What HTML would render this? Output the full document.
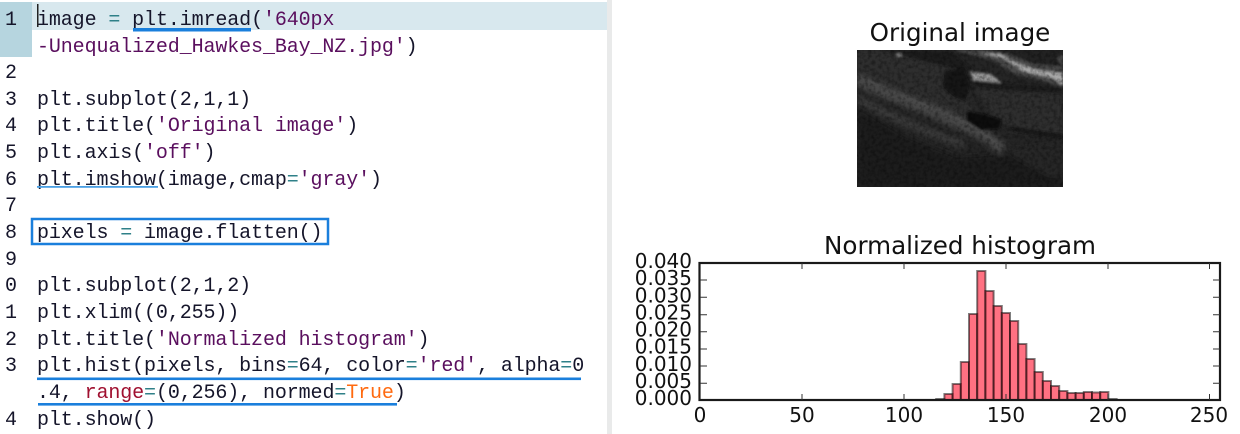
<!DOCTYPE html>
<html><head><meta charset="utf-8"><style>
html,body{margin:0;padding:0;background:#fff}
svg{display:block}
.c text{font-family:"Liberation Mono",monospace;font-size:20px;fill:#15152a;white-space:pre;letter-spacing:-.11px}
.e{fill:#2f8088}.s{fill:#5a0f5e}.r{fill:#a01030}.t{fill:#ff6a10}
.a text{font-family:"DejaVu Sans",sans-serif;font-size:20px;fill:#111}
</style></head><body>
<svg width="1240" height="434" viewBox="0 0 1240 434" xmlns="http://www.w3.org/2000/svg">
<defs>
<filter id="b1" x="-20%" y="-20%" width="140%" height="140%"><feGaussianBlur stdDeviation="8"/></filter>
<filter id="b2" x="-20%" y="-20%" width="140%" height="140%"><feGaussianBlur stdDeviation="4"/></filter>
<filter id="n" x="0" y="0" width="100%" height="100%"><feTurbulence type="fractalNoise" baseFrequency="0.09" numOctaves="2" seed="4"/><feColorMatrix values="0 0 0 0 0 0 0 0 0 0 0 0 0 0 0 2 0 0 0 -0.8"/></filter>
</defs>
<rect width="1240" height="434" fill="#fff"/>
<rect x="32" y="2" width="575" height="28" fill="#d8e8ee"/>
<rect x="0" y="2" width="32" height="55" fill="#b6d5df"/>
<rect x="607" y="0" width="5" height="434" fill="#e9eaea"/>
<g class="c">
<text x="5" y="25">1</text><text x="37" y="25">image <tspan class="e">=</tspan> plt.imread(<tspan class="s">'640px</tspan></text>
<text x="37" y="52"><tspan class="s">-Unequalized_Hawkes_Bay_NZ.jpg'</tspan>)</text>
<text x="5" y="78">2</text>
<text x="5" y="105">3</text><text x="37" y="105">plt.subplot(2,1,1)</text>
<text x="5" y="131">4</text><text x="37" y="131">plt.title(<tspan class="s">'Original image'</tspan>)</text>
<text x="5" y="158">5</text><text x="37" y="158">plt.axis(<tspan class="s">'off'</tspan>)</text>
<text x="5" y="185">6</text><text x="37" y="185">plt.imshow(image,cmap<tspan class="e">=</tspan><tspan class="s">'gray'</tspan>)</text>
<text x="5" y="211">7</text>
<text x="5" y="238">8</text><text x="37" y="238">pixels <tspan class="e">=</tspan> image.flatten()</text>
<text x="5" y="265">9</text>
<text x="5" y="291">0</text><text x="37" y="291">plt.subplot(2,1,2)</text>
<text x="5" y="318">1</text><text x="37" y="318">plt.xlim((0,255))</text>
<text x="5" y="345">2</text><text x="37" y="345">plt.title(<tspan class="s">'Normalized histogram'</tspan>)</text>
<text x="5" y="371">3</text><text x="37" y="371">plt.hist(pixels, bins<tspan class="e">=</tspan>64, color<tspan class="e">=</tspan><tspan class="s">'red'</tspan>, alpha<tspan class="e">=</tspan>0</text>
<text x="37" y="398">.4, <tspan class="r">range</tspan><tspan class="e">=</tspan>(0,256), normed<tspan class="e">=</tspan><tspan class="t">True</tspan>)</text>
<text x="5" y="425">4</text><text x="37" y="425">plt.show()</text>
</g>
<rect x="37" y="4" width="1.5" height="23" fill="#222"/>
<rect x="133" y="28" width="118" height="3.5" fill="#1a7fdc"/>
<rect x="37" y="186" width="121" height="1.8" fill="#4aa0e4"/>
<rect x="32" y="219" width="296" height="25" fill="none" stroke="#1a7fdc" stroke-width="2.5"/>
<rect x="37" y="377.5" width="544" height="2.6" fill="#1a7fdc"/>
<rect x="38" y="403" width="359" height="2.6" fill="#1a7fdc"/>

<g class="a">
<text x="960" y="41" text-anchor="middle" style="font-size:24.6px">Original image</text>
<svg x="857" y="50" width="206" height="137" viewBox="0 0 618 411" preserveAspectRatio="none">
<rect width="618" height="411" fill="#252525"/>
<g filter="url(#b1)">
<polygon points="0,0 270,0 350,170 440,300 250,220 0,70" fill="#2e2e2e"/>
<polygon points="0,170 150,260 300,320 470,310 618,380 618,420 0,420" fill="#1e1e1e"/>
<polygon points="350,110 618,130 618,260 460,240 400,190" fill="#2e2e2e"/>
<polygon points="440,300 618,280 618,400 520,350" fill="#282828"/>
<path d="M0,90 C100,140 200,170 300,215 S400,270 440,300" stroke="#464646" stroke-width="36" fill="none"/>
<path d="M0,145 C80,190 180,235 320,285" stroke="#3a3a3a" stroke-width="24" fill="none"/>
<polygon points="0,340 300,370 618,380 618,420 0,420" fill="#1d1d1d"/>
</g>
<g filter="url(#b2)">
<path d="M0,75 C100,130 220,165 300,205 S390,260 430,290" stroke="#505050" stroke-width="5" fill="none"/>
<polygon points="290,0 618,0 618,112 540,88 470,72 410,32" fill="#4a4a4a"/>
<polygon points="370,8 440,25 500,65 590,85 618,108 618,70 540,60 470,35 430,12" fill="#a8a8a8"/>
<polygon points="340,65 400,72 435,98 350,98" fill="#9a9a9a"/>
<polygon points="400,0 618,0 618,10 600,25 618,50 530,42 450,10" fill="#232323"/>
<polygon points="70,0 280,0 360,70 330,60 230,40" fill="#1c1c1c"/>
<polygon points="262,65 320,50 340,100 325,155 290,140 258,112" fill="#141414"/>
<polygon points="332,182 380,192 435,210 428,236 372,240 328,210" fill="#0c0c0c"/>
<polygon points="340,90 618,115 618,130 430,118 350,108" fill="#1a1a1a"/>
<polygon points="450,228 618,255 618,268 470,243" fill="#171717"/>
<rect x="120" y="12" width="12" height="8" fill="#aaa"/>
</g>
<rect width="618" height="411" filter="url(#n)" opacity=".4"/>
</svg>

<text x="960" y="254" text-anchor="middle" style="font-size:24.6px">Normalized histogram</text>
<g fill="#ff0a28" fill-opacity=".58" stroke="#000" stroke-opacity=".5" stroke-width="2" transform="translate(-0.800 0)">
<rect x="937" y="399" width="8.2" height="1"/>
<rect x="945.2" y="394" width="8.2" height="6"/>
<rect x="953.4" y="384" width="8.2" height="16"/>
<rect x="961.6" y="362" width="8.2" height="38"/>
<rect x="969.8" y="314" width="8.2" height="86"/>
<rect x="978" y="271" width="8.2" height="129"/>
<rect x="986.2" y="291" width="8.2" height="109"/>
<rect x="994.4" y="306" width="8.2" height="94"/>
<rect x="1002.6" y="313" width="8.2" height="87"/>
<rect x="1010.8" y="321" width="8.2" height="79"/>
<rect x="1019" y="344" width="8.2" height="56"/>
<rect x="1027.2" y="359" width="8.2" height="41"/>
<rect x="1035.4" y="372" width="8.2" height="28"/>
<rect x="1043.6" y="381" width="8.2" height="19"/>
<rect x="1051.8" y="386" width="8.2" height="14"/>
<rect x="1060" y="391" width="8.2" height="9"/>
<rect x="1068.2" y="393" width="8.2" height="7"/>
<rect x="1076.4" y="393" width="8.2" height="7"/>
<rect x="1084.6" y="392" width="8.2" height="8"/>
<rect x="1092.8" y="392.500" width="8.2" height="7.5"/>
<rect x="1101" y="392" width="8.2" height="8"/>
<rect x="1109.2" y="399" width="8.2" height="1"/>
</g>
<rect x="699.5" y="263" width="520.500" height="137" fill="none" stroke="#1a1a1a" stroke-width="2.2"/>
<path d="M802 263v6M904 263v6M1006 263v6M1108 263v6M1209.500 263v6M802 400v-6M904 400v-6M1006 400v-6M1108 400v-6M1209.500 400v-6M700 280h7M700 297.300h7M700 314.700h7M700 331.700h7M700 349h7M700 366h7M700 383.300h7M1220 280h-7M1220 297.300h-7M1220 314.700h-7M1220 331.700h-7M1220 349h-7M1220 366h-7M1220 383.300h-7" stroke="#333" stroke-width="1" fill="none"/>
<g text-anchor="end">
<text x="692" y="268">0.040</text><text x="692" y="285">0.035</text><text x="692" y="302.300">0.030</text><text x="692" y="319.400">0.025</text><text x="692" y="336.600">0.020</text><text x="692" y="353.700">0.015</text><text x="692" y="370.800">0.010</text><text x="692" y="388">0.005</text><text x="692" y="405">0.000</text>
</g>
<g text-anchor="middle">
<text x="700" y="422">0</text><text x="802" y="422">50</text><text x="904" y="422">100</text><text x="1006" y="422">150</text><text x="1108" y="422">200</text><text x="1209" y="422">250</text>
</g>
</g>
</svg>
</body></html>
